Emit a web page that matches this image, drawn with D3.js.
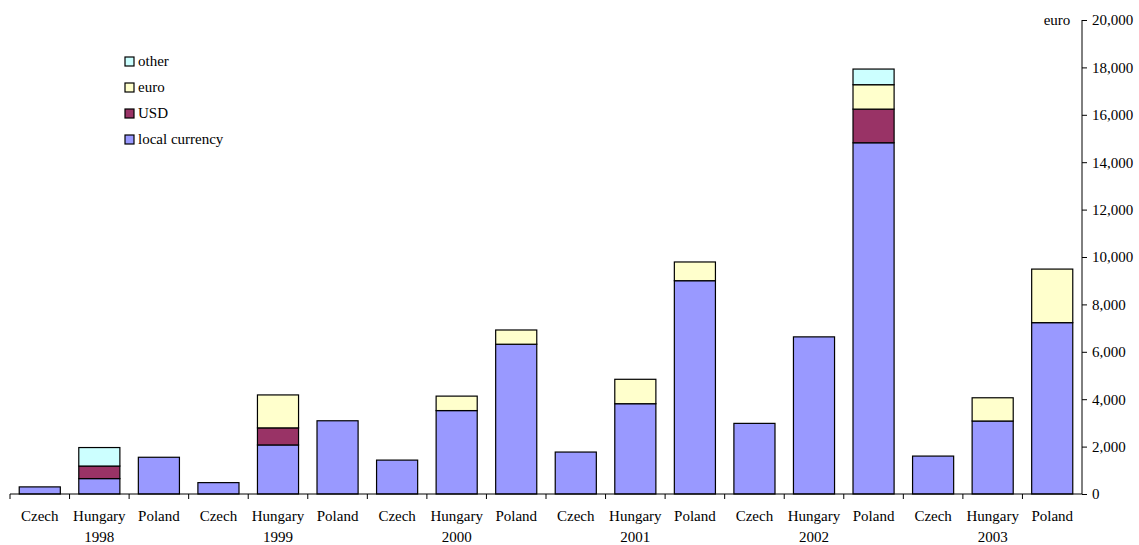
<!DOCTYPE html>
<html>
 <head>
    <style>
        body { margin: 0; background: #fff; }
        svg text { font-family: 'Liberation Serif', 'Times New Roman', serif; font-size: 15px; fill: #000; }
        .bar { stroke: #000; stroke-width: 1.2; }
    </style>
    <script src="https://d3js.org/d3.v7.min.js"></script>
 </head>
 <body>
    <div id="chart"></div>
    <script>
        // data (euro)
        var countries = ["Czech", "Hungary", "Poland"];
        var years = ["1998", "1999", "2000", "2001", "2002", "2003"];
        var localCurrency = [300, 650, 1550, 480, 2070, 3090, 1430, 3520, 6320, 1770, 3810, 9000, 2980, 6630, 14820, 1600, 3080, 7230];
        var usd           = [0, 530, 0, 0, 720, 0, 0, 0, 0, 0, 0, 0, 0, 0, 1420, 0, 0, 0];
        var euro          = [0, 0, 0, 0, 1390, 0, 0, 610, 600, 0, 1030, 790, 0, 0, 1030, 0, 980, 2260];
        var other         = [0, 780, 0, 0, 0, 0, 0, 0, 0, 0, 0, 0, 0, 0, 660, 0, 0, 0];
        var seriesNames = ["local currency", "USD", "euro", "other"];
        var seriesColors = ["#9999ff", "#993366", "#ffffcc", "#ccffff"];
        var yTicks = [0, 2000, 4000, 6000, 8000, 10000, 12000, 14000, 16000, 18000, 20000];

        var W = 1139, H = 545;
        var svg = d3.select("#chart").append("svg").attr("width", W).attr("height", H);

        var rows = [];
        years.forEach(function (yr, i) {
            countries.forEach(function (c, j) {
                var k = i * 3 + j;
                rows.push({ id: yr + "-" + c, country: c, year: yr,
                    "local currency": localCurrency[k], "USD": usd[k], "euro": euro[k], "other": other[k] });
            });
        });

        var x = d3.scaleBand().domain(rows.map(function (d) { return d.id; }))
            .range([10, 1082]).paddingInner(0.31).paddingOuter(0.155);
        var y = d3.scaleLinear().domain([0, 20000]).range([494, 20]);
        var color = d3.scaleOrdinal().domain(seriesNames).range(seriesColors);

        var stack = d3.stack().keys(seriesNames);
        var layers = stack(rows);

        svg.selectAll("g.layer").data(layers).join("g")
            .attr("class", "layer")
            .attr("fill", function (d) { return color(d.key); })
            .selectAll("rect")
            .data(function (d) { return d.filter(function (p) { return p[1] - p[0] > 0; }); })
            .join("rect")
            .attr("class", "bar")
            .attr("x", function (d) { return x(d.data.id); })
            .attr("width", x.bandwidth())
            .attr("y", function (d) { return y(d[1]); })
            .attr("height", function (d) { return y(d[0]) - y(d[1]); });

        // right value axis
        var yAxis = svg.append("g").attr("transform", "translate(1082,0)")
            .call(d3.axisRight(y).tickValues(yTicks).tickSize(5).tickPadding(5).tickFormat(d3.format(",")));
        yAxis.select(".domain").attr("d", "M0,20V494").attr("stroke", "#000");
        yAxis.selectAll("line").attr("stroke", "#000");

        svg.append("text").attr("x", 1057).attr("y", 25).attr("text-anchor", "middle").text("euro");

        // category axis
        var xAxis = svg.append("g").attr("transform", "translate(0,494)")
            .call(d3.axisBottom(x).tickSize(0).tickPadding(16).tickFormat(function (id) { return id.split("-")[1]; }));
        xAxis.select(".domain").attr("d", "M10,0H1082").attr("stroke", "#000");

        var step = x.step();
        var bounds = rows.map(function (d) { return x(d.id) - step * x.paddingInner() / 2; });
        svg.append("g").selectAll("line").data(bounds).join("line")
            .attr("x1", function (d) { return d; }).attr("x2", function (d) { return d; })
            .attr("y1", 494).attr("y2", 499).attr("stroke", "#000");

        svg.append("g").selectAll("text").data(years).join("text")
            .attr("x", function (yr) { return x(yr + "-Hungary") + x.bandwidth() / 2; })
            .attr("y", 542).attr("text-anchor", "middle")
            .text(function (yr) { return yr; });

        // legend
        var legendOrder = ["other", "euro", "USD", "local currency"];
        var legendY = [61, 87, 113, 139];
        var lg = svg.append("g").selectAll("g").data(legendOrder).join("g")
            .attr("transform", function (d, i) { return "translate(125," + legendY[i] + ")"; });
        lg.append("rect").attr("x", 0).attr("y", -4).attr("width", 9).attr("height", 9)
            .attr("fill", function (d) { return color(d); }).attr("stroke", "#000").attr("stroke-width", 1.2);
        lg.append("text").attr("x", 13).attr("y", 5).text(function (d) { return d; });
    </script>
 </body>
</html>
